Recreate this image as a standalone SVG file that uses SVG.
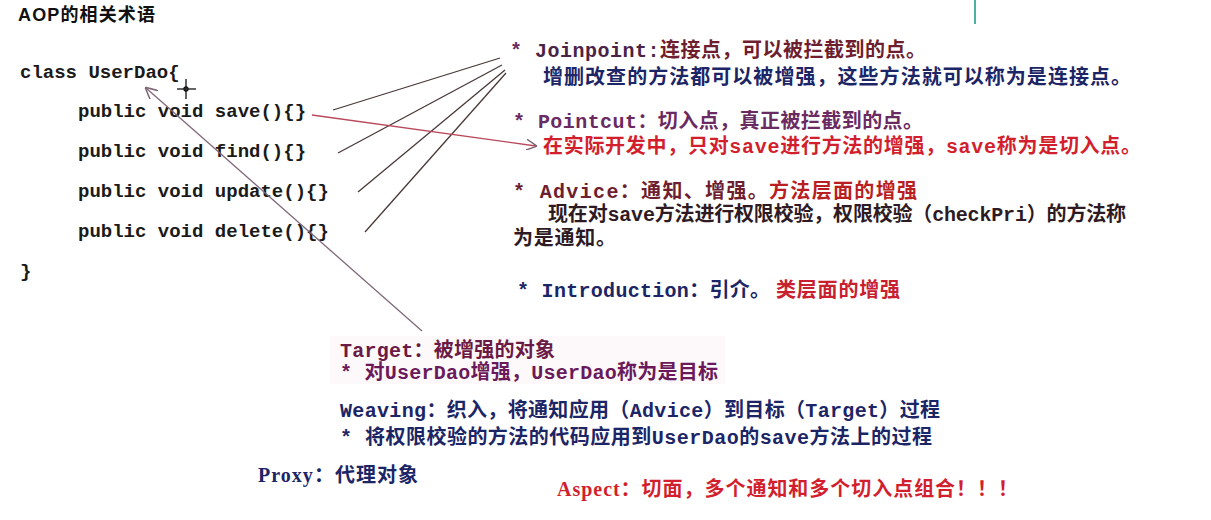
<svg xmlns="http://www.w3.org/2000/svg" width="1211" height="520" viewBox="0 0 1211 520">
<style>
.code{font-family:"Liberation Mono","Noto Sans CJK SC",monospace;font-size:19px;font-weight:bold;fill:#1a1a1a}
.t{font-family:"Liberation Mono","Noto Sans CJK SC",monospace;font-size:20px;font-weight:bold}
.n{font-family:"Liberation Serif","Noto Sans CJK SC",serif;font-size:20px;font-weight:bold}
.title{font-family:"Liberation Sans","Noto Sans CJK SC",sans-serif;font-size:18px;font-weight:bold;fill:#111}
.purple{fill:#6a2a62}
.dpurple{fill:#4a2446}
.maroon{fill:#6e1e2e}
.navy{fill:#1c2566}
.red{fill:#d21f2e}
.dark{fill:#2e1a22}
.jl{stroke:#4a3838;stroke-width:1.3;fill:none}
</style>
<defs>
<marker id="chev" viewBox="0 0 10 10" refX="9" refY="5" markerWidth="11" markerHeight="11" markerUnits="userSpaceOnUse" orient="auto">
<path d="M0,0 L10,5 L0,10" fill="none" stroke="#7a6070" stroke-width="1.3"/>
</marker>
<marker id="chev2" viewBox="0 0 10 10" refX="9" refY="5" markerWidth="12" markerHeight="12" markerUnits="userSpaceOnUse" orient="auto">
<path d="M0,0 L10,5 L0,10" fill="none" stroke="#806878" stroke-width="1.3"/>
</marker>
</defs>
<rect width="1211" height="520" fill="#ffffff"/>
<rect x="330" y="336" width="395" height="48" fill="#fdf8fa"/>
<line x1="975" y1="0" x2="975" y2="24" stroke="#4fb0a0" stroke-width="2"/>

<g id="title"><text class="title" x="18" y="21" textLength="137" lengthAdjust="spacing">AOP的相关术语</text></g>

<g id="code">
<text class="code" x="20" y="78">class UserDao{</text>
<text class="code" x="78" y="117">public void save(){}</text>
<text class="code" x="78" y="157">public void find(){}</text>
<text class="code" x="78" y="197">public void update(){}</text>
<text class="code" x="78" y="237">public void delete(){}</text>
<text class="code" x="20" y="277">}</text>
</g>

<g id="cursor" stroke="#111" stroke-width="1.3" fill="none">
<line x1="186" y1="79" x2="186" y2="99"/>
<line x1="177" y1="89" x2="196" y2="89"/>
<circle cx="186" cy="89" r="2"/>
</g>

<g id="connectors">
<line class="jl" x1="333" y1="110" x2="500" y2="58"/>
<line class="jl" x1="338" y1="153" x2="502" y2="65"/>
<line class="jl" x1="358" y1="192" x2="505" y2="70"/>
<line class="jl" x1="365" y1="232" x2="506" y2="73"/>
<line x1="312" y1="115" x2="536" y2="146" stroke="#b8485a" stroke-width="1.3" marker-end="url(#chev)"/>
<line x1="422" y1="331" x2="146" y2="88" stroke="#806878" stroke-width="1.3" marker-end="url(#chev2)"/>
</g>

<g id="joinpoint">
<text class="t" x="510" y="57" textLength="416" lengthAdjust="spacing"><tspan class="purple">* </tspan><tspan class="dpurple">Joinpoint:</tspan><tspan class="maroon">连接点，可以被拦截到的点。</tspan></text>
<text class="t navy" x="543" y="84" textLength="588" lengthAdjust="spacing">增删改查的方法都可以被增强，这些方法就可以称为是连接点。</text>
</g>

<g id="pointcut">
<text class="t purple" x="513" y="128" textLength="410" lengthAdjust="spacing">* Pointcut：切入点，真正被拦截到的点。</text>
<text class="t red" x="543" y="153" textLength="598" lengthAdjust="spacing">在实际开发中，只对save进行方法的增强，save称为是切入点。</text>
</g>

<g id="advice">
<text class="t" x="513" y="198" textLength="404" lengthAdjust="spacing"><tspan class="maroon">* Advice：通知、增强。</tspan><tspan fill="#b81e22">方法层面的增强</tspan></text>
<text class="t dark" x="548" y="221" textLength="578" lengthAdjust="spacing">现在对save方法进行权限校验，权限校验（checkPri）的方法称</text>
<text class="t dark" x="513" y="245" textLength="103" lengthAdjust="spacing">为是通知。</text>
</g>

<g id="introduction">
<text class="t navy" x="517" y="297" textLength="253" lengthAdjust="spacing">* Introduction：引介。</text>
<text class="t" x="776" y="297" textLength="124" lengthAdjust="spacing" fill="#c8202e">类层面的增强</text>
</g>

<g id="target">
<text class="t" x="340" y="357" textLength="215" lengthAdjust="spacing" fill="#6a1a44">Target：被增强的对象</text>
<text class="t" x="340" y="379" textLength="378" lengthAdjust="spacing" fill="#6a1a5a">* 对UserDao增强，UserDao称为是目标</text>
</g>

<g id="weaving">
<text class="t navy" x="340" y="417" textLength="600" lengthAdjust="spacing">Weaving：织入，将通知应用（Advice）到目标（Target）过程</text>
<text class="t navy" x="340" y="444" textLength="592" lengthAdjust="spacing">* 将权限校验的方法的代码应用到UserDao的save方法上的过程</text>
</g>

<g id="proxy"><text class="n navy" x="258" y="482" textLength="160" lengthAdjust="spacing">Proxy：代理对象</text></g>

<g id="aspect"><text class="n red" x="557" y="496" textLength="461" lengthAdjust="spacing">Aspect：切面，多个通知和多个切入点组合！！！</text></g>
</svg>
